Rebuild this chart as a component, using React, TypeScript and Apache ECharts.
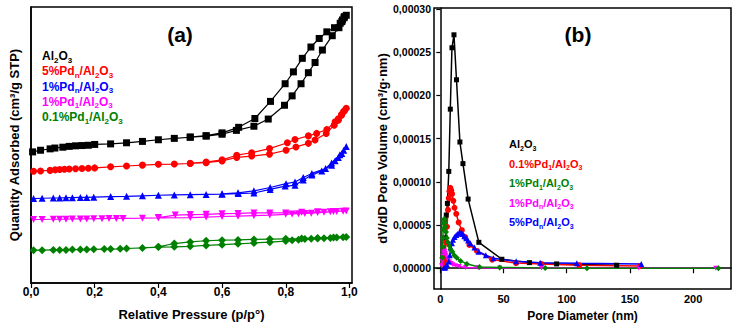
import React, { useEffect, useRef } from "react";
import * as echarts from "echarts";

const FONT = "'Liberation Sans', Arial, sans-serif";

// ---------- Panel (a): N2 isotherms (relative pressure, arbitrary stacked quantity) ----------
const isoAl2O3: number[][] = [
  [0.005, 47.5], [0.03, 48.1], [0.06, 48.6], [0.075, 48.9], [0.1, 49.2], [0.12, 49.5], [0.14, 49.7],
  [0.16, 49.8], [0.18, 49.9], [0.2, 50.2], [0.25, 50.4], [0.3, 50.8], [0.35, 51.3], [0.4, 51.9],
  [0.45, 52.4], [0.5, 52.8], [0.55, 53.2], [0.6, 53.9], [0.645, 55.3], [0.7, 56.8], [0.745, 59.4],
  [0.796, 64.4], [0.82, 67.8], [0.848, 72.2], [0.871, 76.2], [0.892, 79.9], [0.915, 84.4],
  [0.946, 89.6], [0.967, 92.5], [0.976, 94.7], [0.983, 96.1], [0.99, 97.0],
  [0.984, 96.5], [0.978, 95.3], [0.971, 94.1], [0.953, 92.5], [0.929, 91.0], [0.905, 88.6],
  [0.879, 85.5], [0.852, 81.4], [0.824, 76.5], [0.798, 72.2], [0.752, 65.8], [0.703, 59.6],
  [0.652, 56.4], [0.6, 54.4], [0.55, 53.4], [0.5, 52.9],
];
const iso5Pdn: number[][] = [
  [0.008, 40.5], [0.03, 40.6], [0.06, 40.8], [0.076, 41.0], [0.09, 41.1], [0.105, 41.2], [0.12, 41.3],
  [0.14, 41.4], [0.16, 41.5], [0.18, 41.6], [0.2, 41.7], [0.25, 42.1], [0.3, 42.4], [0.35, 42.7],
  [0.4, 43.0], [0.45, 43.1], [0.5, 43.3], [0.55, 43.6], [0.6, 44.2], [0.646, 45.5], [0.693, 46.0],
  [0.749, 46.7], [0.801, 48.1], [0.832, 49.3], [0.871, 50.6], [0.892, 51.8], [0.927, 54.2],
  [0.952, 57.2], [0.965, 59.0], [0.975, 60.8], [0.981, 62.0], [0.99, 63.3],
  [0.985, 62.5], [0.975, 61.0], [0.965, 59.5], [0.955, 58.4], [0.929, 55.6], [0.897, 54.2],
  [0.871, 53.3], [0.829, 52.0], [0.805, 50.8], [0.749, 48.7], [0.693, 47.2], [0.646, 46.3],
  [0.6, 44.6], [0.55, 43.8], [0.5, 43.4],
];
const iso1Pdn: number[][] = [
  [0.008, 30.6], [0.035, 30.7], [0.07, 30.8], [0.09, 30.8], [0.11, 30.9], [0.13, 30.9], [0.155, 31.0],
  [0.175, 31.0], [0.197, 31.1], [0.25, 31.3], [0.3, 31.4], [0.35, 31.6], [0.4, 31.8], [0.45, 31.9],
  [0.5, 32.0], [0.55, 32.1], [0.6, 32.2], [0.651, 32.4], [0.7, 32.6], [0.751, 33.9], [0.798, 35.1],
  [0.829, 35.4], [0.855, 37.3], [0.882, 39.1], [0.913, 40.6], [0.944, 42.7], [0.955, 44.3],
  [0.965, 45.5], [0.976, 46.9], [0.982, 48.1], [0.99, 49.5],
  [0.97, 46.5], [0.944, 43.5], [0.925, 41.5], [0.882, 39.7], [0.855, 38.2], [0.829, 36.6],
  [0.801, 36.0], [0.751, 34.6], [0.7, 33.4], [0.65, 32.7], [0.6, 32.3],
];
const iso1Pd1: number[][] = [
  [0.008, 23.0], [0.035, 23.0], [0.07, 23.1], [0.09, 23.1], [0.11, 23.1], [0.13, 23.2], [0.155, 23.2],
  [0.175, 23.2], [0.197, 23.3], [0.223, 23.3], [0.245, 23.4], [0.268, 23.4], [0.289, 23.4],
  [0.35, 23.5], [0.4, 23.6], [0.5, 23.7], [0.55, 23.9], [0.6, 24.1], [0.65, 24.2], [0.7, 24.4],
  [0.75, 24.6], [0.8, 24.9], [0.82, 25.0], [0.84, 25.1], [0.86, 25.2], [0.88, 25.3], [0.9, 25.5],
  [0.92, 25.6], [0.94, 25.8], [0.96, 25.9], [0.98, 26.0], [0.99, 26.1],
  [0.95, 25.9], [0.9, 25.8], [0.85, 25.6], [0.8, 25.4], [0.75, 25.4], [0.7, 25.4], [0.65, 25.2],
  [0.6, 25.1], [0.55, 24.9], [0.5, 24.8], [0.453, 24.6], [0.4, 23.7],
];
const iso01Pd1: number[][] = [
  [0.008, 11.9], [0.035, 11.9], [0.07, 12.0], [0.09, 12.0], [0.11, 12.0], [0.13, 12.1], [0.155, 12.1],
  [0.175, 12.1], [0.197, 12.2], [0.23, 12.3], [0.25, 12.3], [0.28, 12.4], [0.3, 12.5], [0.35, 12.7],
  [0.4, 13.0], [0.45, 13.1], [0.5, 13.3], [0.55, 13.6], [0.6, 13.9], [0.65, 14.2], [0.7, 14.5],
  [0.75, 14.8], [0.8, 15.2], [0.82, 15.5], [0.84, 15.7], [0.86, 15.9], [0.88, 16.0], [0.9, 16.1],
  [0.92, 16.2], [0.94, 16.3], [0.96, 16.5], [0.98, 16.6], [0.99, 16.7],
  [0.95, 16.5], [0.9, 16.3], [0.85, 16.1], [0.8, 16.0], [0.75, 15.9], [0.7, 15.8], [0.65, 15.6],
  [0.6, 15.5], [0.55, 15.3], [0.5, 14.9], [0.45, 14.3], [0.4, 13.1],
];
const ticksA = [0, 0.2, 0.4, 0.6, 0.8, 1.0];

// ---------- Panel (b): pore size distribution ----------
const psdAl2O3: number[][] = [
  [3.2, 0.00001], [4.0, 0.000035], [4.7, 0.0000615], [5.6, 0.000075], [6.7, 0.000112], [7.9, 0.000184],
  [9.2, 0.000255], [10.8, 0.00027], [12.8, 0.000218], [15.5, 0.000146], [17.9, 0.000121],
  [22.0, 0.00008], [30.5, 0.00003], [48.7, 0.0000104], [70.5, 0.0000065], [92, 0.000005], [139.5, 0.0000035],
];
const psd01Pd1: number[][] = [
  [2.5, 0.000005], [3.5, 0.00001], [4.5, 0.00003], [5.3, 0.000048], [6.1, 0.0000675], [6.7, 0.000081],
  [7.2, 0.000089], [7.9, 0.000093], [8.6, 0.00009], [9.3, 0.000086], [10.3, 0.000078], [11.2, 0.00007],
  [12.6, 0.000063], [14.5, 0.000053], [17.0, 0.000044], [19.7, 0.000036], [23.0, 0.000027],
  [29.0, 0.00002], [41.0, 0.00001], [60, 0.000006], [80, 0.000005], [110, 0.0000035], [158, 0.0000025],
];
const psd1Pd1: number[][] = [
  [1.5, 0.000012], [1.8, 0.000025], [2.0, 0.000035], [2.2, 0.000045], [2.5, 0.000052], [2.8, 0.000056],
  [3.2, 0.000057], [3.6, 0.000053], [4.0, 0.000048], [4.5, 0.000042], [5.2, 0.000035], [6.0, 0.00003],
  [7.0, 0.000026], [8.0, 0.000022], [9.5, 0.000019], [11.0, 0.000015], [13.0, 0.000012], [16.0, 0.0000085],
  [21.0, 0.000005], [31.0, 0.0000015], [47.0, 0.000001], [83, 0.0000003], [116, 0], [220, 0],
];
const psd1Pdn: number[][] = [
  [1.0, 0.000003], [1.5, 0.000008], [2.0, 0.000014], [2.5, 0.000018], [3.0, 0.00002], [3.5, 0.000019],
  [4.0, 0.000017], [4.6, 0.000015], [5.3, 0.000012], [6.2, 0.00001], [7.2, 0.0000075], [8.5, 0.0000055],
  [10, 0.000004], [12, 0.000003], [15, 0.000002], [20, 0.000001], [30, 0.0000005], [47, 0.0000003],
  [80, 0.0000002], [157, 0.0000002], [218, 0],
];
const psd5Pdn: number[][] = [
  [3.0, 0.0000005], [4.0, 0.000001], [5.3, 0.000004], [6.6, 0.0000077], [7.5, 0.000015], [8.4, 0.000023],
  [9.2, 0.000029], [10.0, 0.000033], [11.2, 0.000036], [12.6, 0.0000386], [13.9, 0.00004], [15.2, 0.0000416],
  [16.4, 0.000041], [17.6, 0.0000397], [19.0, 0.000037], [20.5, 0.0000347], [22.0, 0.000032],
  [23.7, 0.0000289], [27.0, 0.000024], [30.3, 0.0000192], [36.0, 0.000015], [42.0, 0.0000116],
  [60, 0.000008], [79, 0.0000065], [108, 0.0000058], [159, 0.000005],
];
const ticksBx = [0, 50, 100, 150, 200];
const ticksBy = [0, 0.00005, 0.0001, 0.00015, 0.0002, 0.00025, 0.0003];

// legend labels (rich text: {s|..} = subscript)
const legendA = [
  { text: "Al{s|2}O{s|3}", color: "#000000" },
  { text: "5%Pd{s|n}/Al{s|2}O{s|3}", color: "#ff0000" },
  { text: "1%Pd{s|n}/Al{s|2}O{s|3}", color: "#0000ff" },
  { text: "1%Pd{s|1}/Al{s|2}O{s|3}", color: "#ff00ff" },
  { text: "0.1%Pd{s|1}/Al{s|2}O{s|3}", color: "#008000" },
];
const legendB = [
  { text: "Al{s|2}O{s|3}", color: "#000000" },
  { text: "0.1%Pd{s|1}/Al{s|2}O{s|3}", color: "#ff0000" },
  { text: "1%Pd{s|1}/Al{s|2}O{s|3}", color: "#008000" },
  { text: "1%Pd{s|n}/Al{s|2}O{s|3}", color: "#ff00ff" },
  { text: "5%Pd{s|n}/Al{s|2}O{s|3}", color: "#0000ff" },
];

const DIAMOND = "path://M5,0 L10,5 L5,10 L0,5 Z";

function lineSeries(data: number[][], color: string, symbol: string, size: number, idx: number, lw: number, rotate = 0) {
  return {
    type: "line",
    xAxisIndex: idx,
    yAxisIndex: idx,
    data,
    symbol,
    symbolSize: size,
    symbolRotate: rotate,
    showSymbol: true,
    lineStyle: { color, width: lw },
    itemStyle: { color, borderWidth: 0 },
    emphasis: { disabled: true },
    silent: true,
    z: 3,
  };
}

function legendGraphics(items: { text: string; color: string }[], x: number, y0: number, dy: number, fs: number, sfs: number) {
  return items.map((it, i) => ({
    type: "text",
    x,
    y: y0 + i * dy,
    silent: true,
    style: {
      text: it.text,
      fill: it.color,
      fontSize: fs,
      fontWeight: "bold",
      fontFamily: FONT,
      lineHeight: fs + 4,
      verticalAlign: "middle",
      align: "left",
      rich: {
        s: { fontSize: sfs, fontWeight: "bold", fontFamily: FONT, fill: it.color, lineHeight: sfs, verticalAlign: "bottom" },
      },
    },
  }));
}

export default function App() {
  const ref = useRef<HTMLDivElement>(null);
  useEffect(() => {
    if (!ref.current) return;
    const chart = echarts.init(ref.current, null, { renderer: "svg" });
    const axisLabelStyle = { color: "#000", fontWeight: "bold", fontFamily: FONT };
    const nameStyle = { color: "#000", fontWeight: "bold", fontFamily: FONT, fontSize: 13 };
    const option: any = {
      animation: false,
      backgroundColor: "#ffffff",
      textStyle: { fontFamily: FONT },
      grid: [
        { left: 31, top: 7, right: 385, bottom: 45, show: true, borderColor: "#000", borderWidth: 1.5, containLabel: false },
        { left: 434, top: 8, right: 6, bottom: 39, show: true, borderColor: "#000", borderWidth: 1.5, containLabel: false },
      ],
      xAxis: [
        {
          type: "value", gridIndex: 0, min: 0, max: 1.008,
          name: "Relative Pressure (p/p°)", nameLocation: "middle", nameGap: 25, nameTextStyle: nameStyle,
          axisLine: { show: true, lineStyle: { color: "#000", width: 1.5 } },
          axisTick: { show: true, inside: false, length: 5, customValues: ticksA, lineStyle: { color: "#000", width: 1.2 } },
          axisLabel: { ...axisLabelStyle, fontSize: 12, margin: 3, customValues: ticksA, formatter: (v: number) => v.toFixed(1).replace(".", ",") },
          splitLine: { show: false },
        },
        {
          type: "value", gridIndex: 1, min: -5, max: 230,
          name: "Pore Diameter (nm)", nameLocation: "middle", nameGap: 21, nameTextStyle: { ...nameStyle, fontSize: 12 },
          axisLine: { show: true, lineStyle: { color: "#000", width: 1.5 } },
          axisTick: { show: true, inside: false, length: 5, customValues: ticksBx, lineStyle: { color: "#000", width: 1.2 } },
          axisLabel: { ...axisLabelStyle, fontSize: 11, margin: 4, customValues: ticksBx, formatter: (v: number) => String(v) },
          splitLine: { show: false },
        },
      ],
      yAxis: [
        {
          type: "value", gridIndex: 0, min: 0, max: 100,
          name: "Quantity Adsorbed (cm³/g STP)", nameLocation: "middle", nameGap: 10, nameTextStyle: nameStyle,
          axisLine: { show: true, lineStyle: { color: "#000", width: 1.5 } },
          axisTick: { show: false },
          axisLabel: { show: false },
          splitLine: { show: false },
        },
        {
          type: "value", gridIndex: 1, min: -0.000024, max: 0.000301,
          name: "dV/dD Pore Volume (cm³/g·nm)", nameLocation: "middle", nameGap: 44, nameTextStyle: nameStyle,
          axisLine: { show: true, lineStyle: { color: "#000", width: 1.5 } },
          axisTick: { show: true, inside: false, length: 4, customValues: ticksBy, lineStyle: { color: "#000", width: 1.2 } },
          axisLabel: { ...axisLabelStyle, fontSize: 10.5, margin: 3, customValues: ticksBy, formatter: (v: number) => v.toFixed(5).replace(".", ",") },
          splitLine: { show: false },
        },
      ],
      series: [
        lineSeries(isoAl2O3, "#000000", "rect", 7, 0, 1.2),
        lineSeries(iso5Pdn, "#ff0000", "circle", 7, 0, 1.2),
        lineSeries(iso1Pdn, "#0000ff", "triangle", 7, 0, 1.2),
        lineSeries(iso1Pd1, "#ff00ff", "triangle", 7, 0, 1.2, 180),
        lineSeries(iso01Pd1, "#008000", DIAMOND, 8, 0, 1.2),
        lineSeries(psdAl2O3, "#000000", "rect", 5, 1, 1.5),
        lineSeries(psd01Pd1, "#ff0000", "circle", 6, 1, 1.5),
        lineSeries(psd1Pdn, "#ff00ff", "triangle", 5, 1, 1.5, 180),
        lineSeries(psd5Pdn, "#0000ff", "triangle", 6, 1, 1.5),
        lineSeries(psd1Pd1, "#008000", DIAMOND, 6, 1, 1.5),
      ],
      graphic: [
        { type: "text", x: 180, y: 34, silent: true, style: { text: "(a)", fill: "#000", fontSize: 21, fontWeight: "bold", fontFamily: FONT, align: "center", verticalAlign: "middle" } },
        { type: "text", x: 578, y: 34, silent: true, style: { text: "(b)", fill: "#000", fontSize: 21, fontWeight: "bold", fontFamily: FONT, align: "center", verticalAlign: "middle" } },
        ...legendGraphics(legendA, 42, 56, 15.3, 12, 8),
        ...legendGraphics(legendB, 509, 144, 19.5, 11, 7),
      ],
    };
    chart.setOption(option);
    return () => chart.dispose();
  }, []);
  return <div ref={ref} style={{ position: "absolute", left: 0, top: 0, width: 737, height: 328 }} />;
}
